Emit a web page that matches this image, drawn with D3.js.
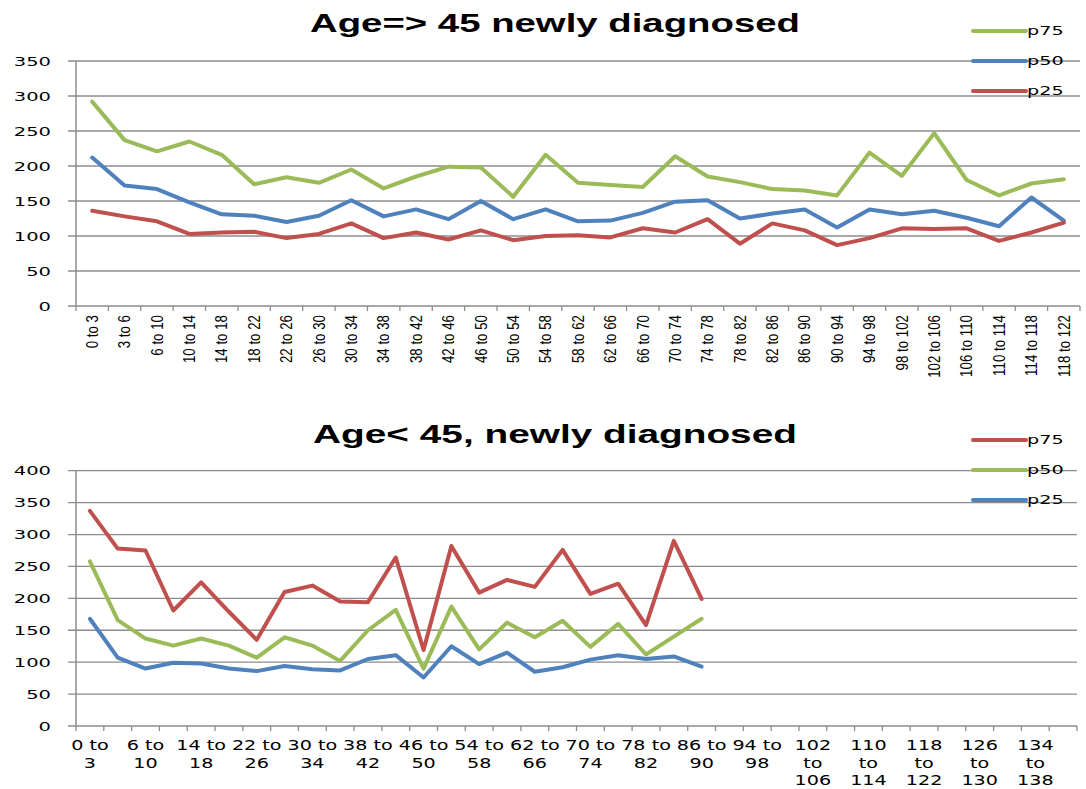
<!DOCTYPE html>
<html>
<head>
<meta charset="utf-8">
<script src="https://cdnjs.cloudflare.com/ajax/libs/d3/7.8.5/d3.min.js"></script>
<style>
  body { margin: 0; background: #fff; }
  svg { display: block; }
</style>
</head>
<body>
<svg width="1086" height="789"></svg>
<script>
// top chart : age => 45
var topCats = ['0 to 3','3 to 6','6 to 10','10 to 14','14 to 18','18 to 22','22 to 26','26 to 30','30 to 34',
  '34 to 38','38 to 42','42 to 46','46 to 50','50 to 54','54 to 58','58 to 62','62 to 66','66 to 70','70 to 74',
  '74 to 78','78 to 82','82 to 86','86 to 90','90 to 94','94 to 98','98 to 102','102 to 106','106 to 110',
  '110 to 114','114 to 118','118 to 122'];
var topP75 = [292, 237, 221, 235, 216, 174, 184, 176, 195, 168, 185, 199, 198, 156, 216, 176, 173, 170, 214, 185,
  177, 167, 165, 158, 219, 186, 247, 180, 158, 175, 181];
var topP50 = [212, 172, 167, 148, 131, 129, 120, 129, 151, 128, 138, 124, 150, 124, 138, 121, 122, 133, 149, 151,
  125, 132, 138, 112, 138, 131, 136, 126, 114, 155, 122];
var topP25 = [136, 128, 121, 103, 105, 106, 97, 103, 118, 97, 105, 95, 108, 94, 100, 101, 98, 111, 105, 124,
  89, 118, 108, 87, 97, 111, 110, 111, 93, 105, 119];
var topTicks = [0, 50, 100, 150, 200, 250, 300, 350];

// bottom chart : age < 45
var botCats = topCats.concat(['122 to 126','126 to 130','130 to 134','134 to 138','138 to 142']);
var botP75 = [337, 278, 275, 181, 225, 179, 135, 210, 220, 195, 194, 264, 119, 282, 209, 229, 218, 276, 207, 223,
  158, 290, 199];
var botP50 = [258, 166, 137, 126, 137, 126, 107, 139, 126, 102, 150, 182, 90, 187, 120, 162, 139, 165, 124, 160,
  112, 140, 168];
var botP25 = [168, 107, 90, 99, 98, 90, 86, 94, 89, 87, 105, 111, 76, 125, 97, 115, 85, 92, 104, 111,
  105, 109, 93];
var botTicks = [0, 50, 100, 150, 200, 250, 300, 350, 400];

var green = '#9bbb59', blue = '#4f81bd', red = '#c0504d';
var gridCol = '#8c8c8c';

var svg = d3.select('svg');

// text that is wider than normal (the picture is stretched sideways)
function wideText(g, str, x, y, opts){
  var t = g.append('text')
    .attr('transform', 'translate(' + x + ',' + y + ') scale(' + (opts.sx || 1) + ',1)' + (opts.rot ? ' rotate(' + opts.rot + ')' : ''))
    .attr('text-anchor', opts.anchor || 'start')
    .attr('dy', opts.dy || 0)
    .style('font-family', opts.font || '"DejaVu Sans", Verdana, sans-serif')
    .style('font-size', opts.size + 'px')
    .style('font-weight', opts.weight || 'normal')
    .attr('fill', '#000')
    .text(str);
  return t;
}

function drawChart(c){
  var g = svg.append('g');

  var x = d3.scaleBand().domain(c.cats).range([c.x0, c.x1]).padding(0);
  var y = d3.scaleLinear().domain([0, c.max]).range([c.y0, c.y1]);
  var bw = x.bandwidth();

  // title, fitted to the width it has in the picture
  var title = wideText(g, c.title, c.titleX, c.titleY, {anchor: 'middle', size: 25, weight: 'bold',
    font: '"Liberation Sans", Arial, sans-serif'});
  var natural = title.node().getComputedTextLength();
  title.attr('transform', 'translate(' + c.titleX + ',' + c.titleY + ') scale(' + (c.titleW / natural) + ',1)');

  // gridlines
  g.selectAll('.grid').data(c.ticks.filter(function(d){ return d > 0; })).enter().append('line')
    .attr('x1', 68).attr('x2', c.x1)
    .attr('y1', function(d){ return y(d); }).attr('y2', function(d){ return y(d); })
    .attr('stroke', gridCol).attr('stroke-width', 1.3);

  // axes
  g.append('line').attr('x1', c.x0).attr('x2', c.x0).attr('y1', y(c.max)).attr('y2', c.y0)
    .attr('stroke', gridCol).attr('stroke-width', 1.5);
  g.append('line').attr('x1', 68).attr('x2', c.x1).attr('y1', c.y0).attr('y2', c.y0)
    .attr('stroke', gridCol).attr('stroke-width', 1.5);

  // tick marks between categories
  var edges = c.cats.map(function(d){ return x(d); }).concat([c.x1]);
  g.selectAll('.xt').data(edges).enter().append('line')
    .attr('x1', function(d){ return d; }).attr('x2', function(d){ return d; })
    .attr('y1', c.y0).attr('y2', c.y0 + 5)
    .attr('stroke', gridCol).attr('stroke-width', 1.3);

  // y labels
  c.ticks.forEach(function(t){
    wideText(g, t, 51, y(t), {anchor: 'end', size: 13, sx: 1.5, dy: '0.36em'});
  });

  // x labels
  if(c.rotated){
    c.cats.forEach(function(d){
      wideText(g, d, x(d) + bw / 2, c.y0 + 9, {anchor: 'end', size: 13.3, sx: 1.2, rot: -90, dy: '0.36em',
        font: '"Liberation Sans", Arial, sans-serif'});
    });
  } else {
    c.cats.forEach(function(d, i){
      if(i % 2 !== 0) return;
      var w = d.split(' ');
      var lines = w[0].length >= 3 ? w : [w[0] + ' ' + w[1], w[2]];
      lines.forEach(function(l, j){
        wideText(g, l, x(d) + bw / 2, c.y0 + 24 + j * 17.6, {anchor: 'middle', size: 13.5, sx: 1.42});
      });
    });
  }

  // series lines
  var line = d3.line()
    .x(function(d, i){ return x(c.cats[i]) + bw / 2; })
    .y(function(d){ return y(d); });

  c.series.forEach(function(s){
    g.append('path').datum(s.values)
      .attr('d', line)
      .attr('fill', 'none')
      .attr('stroke', s.color)
      .attr('stroke-width', 4)
      .attr('stroke-linejoin', 'round')
      .attr('stroke-linecap', 'round');
  });

  // legend
  c.series.forEach(function(s, i){
    var ly = c.legendY + i * 30;
    g.append('line').attr('x1', 973).attr('x2', 1026).attr('y1', ly).attr('y2', ly)
      .attr('stroke', s.color).attr('stroke-width', 4).attr('stroke-linecap', 'round');
    wideText(g, s.name, 1027, ly, {size: 12, sx: 1.6, dy: '0.36em'});
  });
}

drawChart({
  title: 'Age=> 45 newly diagnosed', titleX: 555, titleY: 32, titleW: 490,
  cats: topCats, x0: 76, x1: 1080, y0: 306, y1: 61, max: 350, ticks: topTicks,
  rotated: true, legendY: 31,
  series: [
    {name: 'p75', values: topP75, color: green},
    {name: 'p50', values: topP50, color: blue},
    {name: 'p25', values: topP25, color: red}
  ]
});

drawChart({
  title: 'Age< 45, newly diagnosed', titleX: 555, titleY: 443, titleW: 484,
  cats: botCats, x0: 76, x1: 1077, y0: 726, y1: 470.7, max: 400, ticks: botTicks,
  rotated: false, legendY: 440,
  series: [
    {name: 'p75', values: botP75, color: red},
    {name: 'p50', values: botP50, color: green},
    {name: 'p25', values: botP25, color: blue}
  ]
});
</script>
</body>
</html>
